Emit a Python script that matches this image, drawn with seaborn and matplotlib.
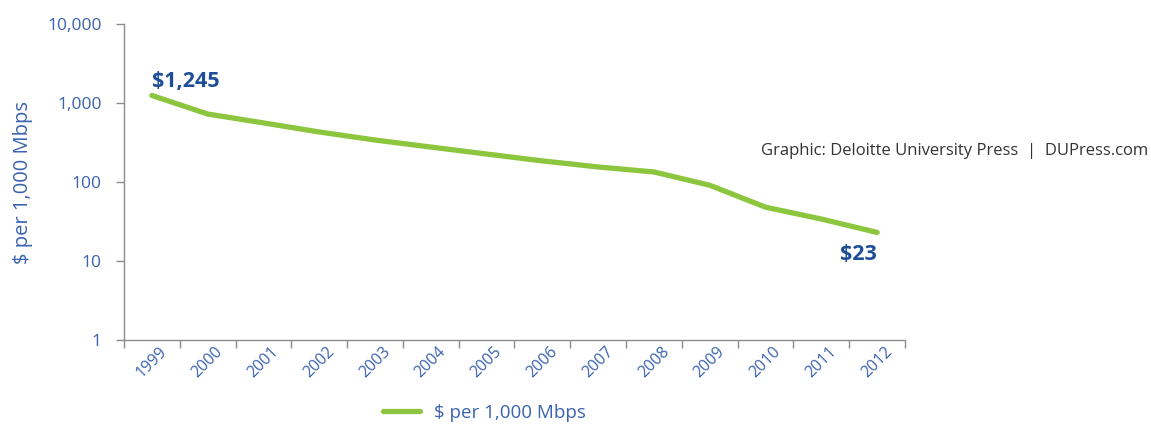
import pandas as pd
import seaborn as sns
import matplotlib.pyplot as plt
from matplotlib.ticker import FixedLocator, FixedFormatter, NullFormatter

# Cost of bandwidth, $ per 1,000 Mbps (log scale)
years = ['1999', '2000', '2001', '2002', '2003', '2004', '2005',
         '2006', '2007', '2008', '2009', '2010', '2011', '2012']
cost = [1245, 726, 560, 430, 340, 277, 226, 185, 155, 134, 91, 48, 34, 23]
y_ticks = [1, 10, 100, 1000, 10000]
y_labels = ['1', '10', '100', '1,000', '10,000']

GREEN = '#8CC63F'
BLUE = '#3A62AE'
DARK_BLUE = '#1F4E99'
GREY = '#8C8C8C'

sns.set_style('white')
plt.rcParams['font.family'] = ['Open Sans', 'DejaVu Sans']

df = pd.DataFrame({'Year': years, 'Cost': cost})

fig = plt.figure(figsize=(11.51, 4.28), dpi=100)
ax = fig.add_axes([0.1077, 0.2056, 0.6786, 0.7383])

sns.lineplot(data=df, x='Year', y='Cost', color=GREEN, linewidth=3.8,
             ax=ax, sort=False, label='$ per 1,000 Mbps', legend=False)

ax.set_yscale('log')
ax.set_ylim(1, 10000)
ax.set_xlim(-0.5, len(years) - 0.5)

ax.yaxis.set_major_locator(FixedLocator(y_ticks))
ax.yaxis.set_major_formatter(FixedFormatter(y_labels))
ax.yaxis.set_minor_locator(FixedLocator([]))
ax.tick_params(axis='y', which='major', length=6, width=1, color=GREY,
               labelcolor=BLUE, labelsize=12.5, pad=10, left=True)

# x ticks at category boundaries, labels at centres
ax.xaxis.set_major_locator(FixedLocator([i - 0.5 for i in range(len(years) + 1)]))
ax.xaxis.set_major_formatter(NullFormatter())
ax.xaxis.set_minor_locator(FixedLocator(list(range(len(years)))))
ax.xaxis.set_minor_formatter(FixedFormatter(years))
ax.tick_params(axis='x', which='major', length=6, width=1, color=GREY, bottom=True)
ax.tick_params(axis='x', which='minor', length=0, labelcolor=BLUE,
               labelsize=11.5, pad=3)
for lbl in ax.get_xticklabels(minor=True):
    lbl.set_rotation(45)
    lbl.set_ha('center')
    lbl.set_va('top')

ax.set_xlabel('')
ax.set_ylabel('$ per 1,000 Mbps', color=BLUE, fontsize=14.5, labelpad=10)

for side in ['top', 'right']:
    ax.spines[side].set_visible(False)
for side in ['left', 'bottom']:
    ax.spines[side].set_color(GREY)
    ax.spines[side].set_linewidth(1)

ax.annotate('$1,245', xy=(0, cost[0]), xytext=(0, 2.2), textcoords=('data', 'offset points'),
            color=DARK_BLUE, fontsize=15.5, fontweight='bold', ha='left', va='bottom')
ax.text(len(years) - 1, 10 ** 1.08, '$23', color=DARK_BLUE, fontsize=15.5,
        fontweight='bold', ha='right', va='center')

fig.text(0.998, 0.647, 'Graphic: Deloitte University Press  |  DUPress.com',
         color='#333333', fontsize=12, ha='right', va='center')

fig.legend(loc='center left', bbox_to_anchor=(0.318, 0.035), frameon=False,
           fontsize=13.5, labelcolor=BLUE, handlelength=2.0, handletextpad=0.7)

fig.savefig('out.png', dpi=100)
